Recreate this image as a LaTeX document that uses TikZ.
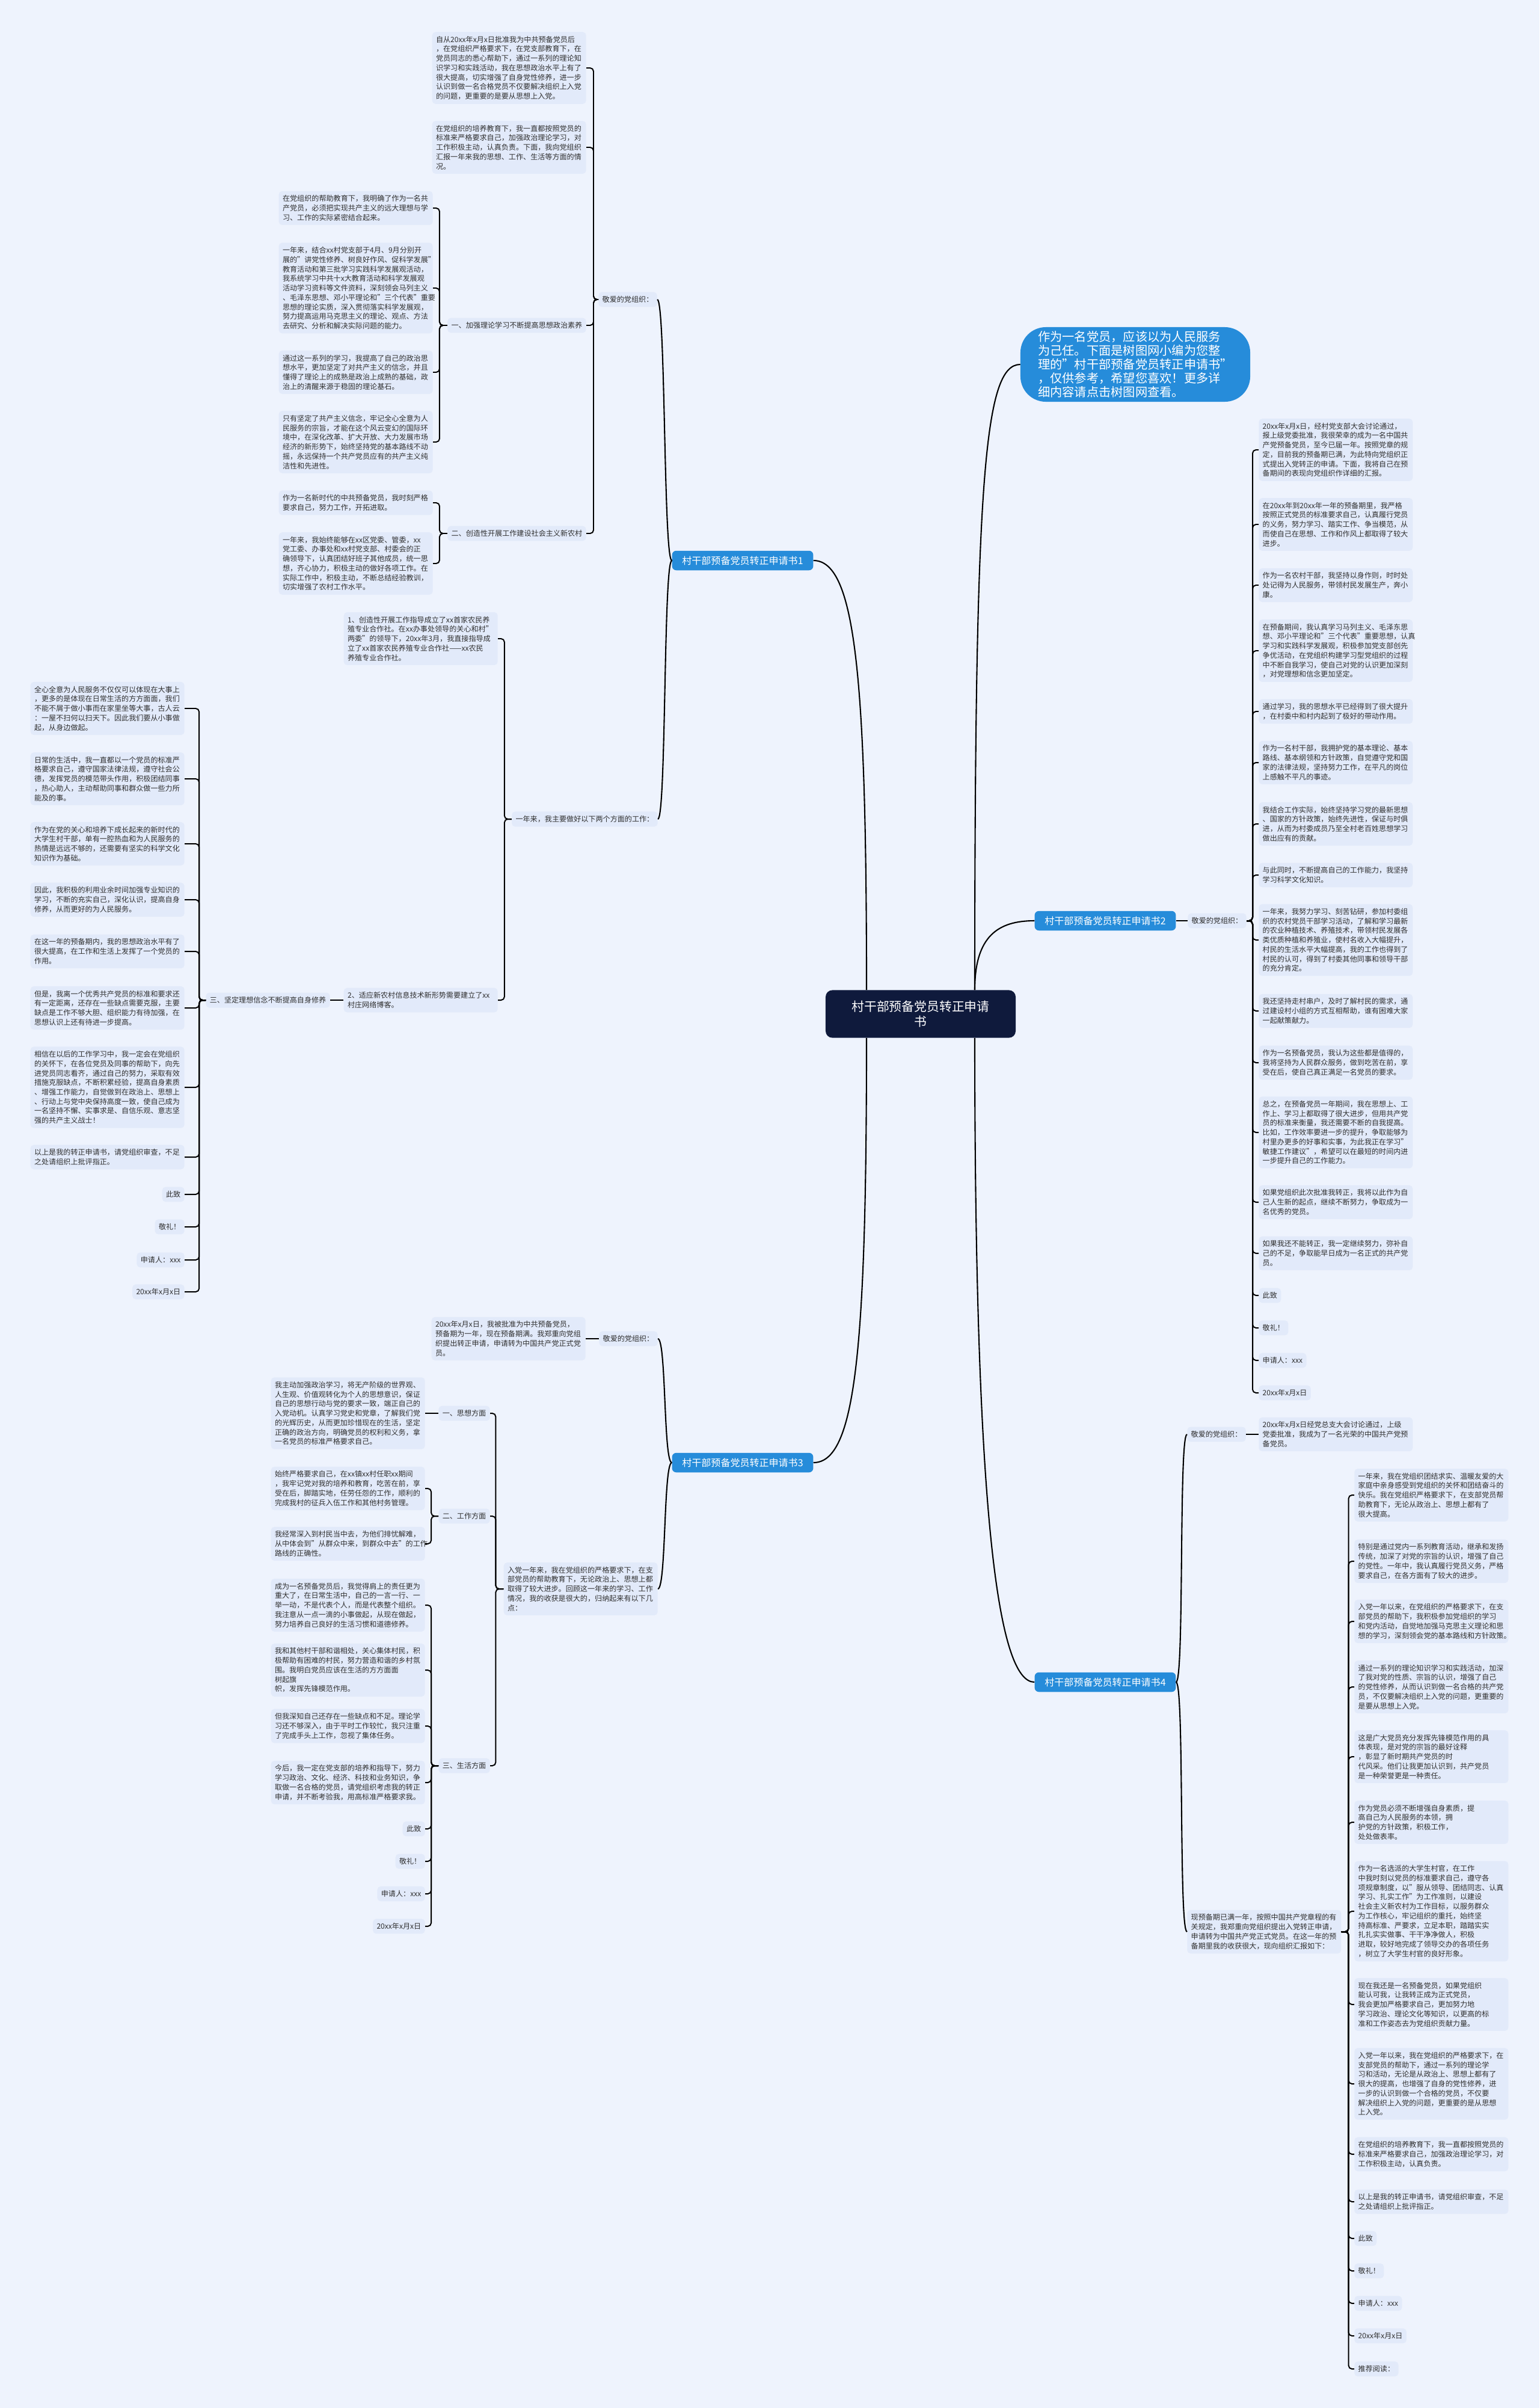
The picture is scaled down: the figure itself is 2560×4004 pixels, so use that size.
\documentclass[tikz,border=0pt]{standalone}
\usepackage{fontspec}
\setmainfont{Noto Sans CJK SC}
\usepackage{tikz}
\usetikzlibrary{positioning,calc}
\definecolor{bgblue}{RGB}{238,243,253}
\definecolor{boxblue}{RGB}{226,234,250}
\definecolor{txtgray}{RGB}{48,48,48}
\definecolor{midblue}{RGB}{38,140,218}
\definecolor{rootnavy}{RGB}{15,26,60}
\newcommand{\leaffont}{\fontsize{8.6}{11.2}\selectfont}
\newcommand{\branchfont}{\fontsize{11.4}{14}\selectfont}
\newcommand{\rootfont}{\fontsize{14.8}{18}\selectfont}
\newcommand{\introfont}{\fontsize{14.4}{16.4}\selectfont}
\tikzset{
  leaf/.style={fill=boxblue,rounded corners=4pt,text=txtgray,font=\leaffont,align=left,
    text width=6.08cm,inner xsep=0.16cm,inner ysep=0.17cm},
  tag/.style={fill=boxblue,rounded corners=4pt,text=txtgray,font=\leaffont,
    inner xsep=0.16cm,inner ysep=0.17cm},
  branch/.style={fill=midblue,text=white,rounded corners=5pt,font=\branchfont,
    inner xsep=0.42cm,inner ysep=0.22cm},
  link/.style={draw=black,line width=1.4pt,rounded corners=4pt},
  curve/.style={draw=black,line width=1.5pt}
}

\begin{document}
\begin{tikzpicture}[x=0.025cm,y=-0.025cm]
  \fill[bgblue] (0,0) rectangle (2560,4004);
  \useasboundingbox (0,0) rectangle (2560,4004);

  % centre and first level
  \node[fill=rootnavy,text=white,rounded corners=8pt,font=\rootfont,align=center,
    minimum width=7.9cm,minimum height=1.98cm] (root) at (1531,1686)
    {村干部预备党员转正申请\\书};
  \node[fill=midblue,text=white,rounded corners=30pt,font=\introfont,align=left,
    minimum width=9.55cm,minimum height=3.1cm,inner xsep=0.5cm] (intro) at (1888,606)
    {作为一名党员，应该以为人民服务\\为己任。下面是树图网小编为您整\\理的"村干部预备党员转正申请书"\\，仅供参考，希望您喜欢！更多详\\细内容请点击树图网查看。};
  \node[branch] (b1) at (1235,932) {村干部预备党员转正申请书1};
  \node[branch] (b2) at (1838,1531) {村干部预备党员转正申请书2};
  \node[branch] (b3) at (1235,2432) {村干部预备党员转正申请书3};
  \node[branch] (b4) at (1838,2797) {村干部预备党员转正申请书4};

  \coordinate (rootUL) at ($(root.north)+(-90,0)$);
  \coordinate (rootUR) at ($(root.north)+(90,0)$);
  \coordinate (rootDL) at ($(root.south)+(-90,0)$);
  \coordinate (rootDR) at ($(root.south)+(90,0)$);
  \draw[curve] (rootUL) .. controls +(0,-520) and +(70,0) .. (b1.east);
  \draw[curve] (rootDL) .. controls +(0,520) and +(70,0) .. (b3.east);
  \draw[curve] (rootUR) .. controls +(0,-90) and +(-60,0) .. (b2.west);
  \draw[curve] (rootUR) .. controls +(0,-850) and +(-60,0) .. (intro.west);
  \draw[curve] (rootDR) .. controls +(0,800) and +(-60,0) .. (b4.west);

  % ---------------- 申请书1 ----------------
  \node[tag,anchor=west] (s1jing) at (995,498) {敬爱的党组织：};
  \node[leaf,anchor=east] (s1a) at (975,113) {自从20xx年x月x日批准我为中共预备党员后\\，在党组织严格要求下，在党支部教育下，在\\党员同志的悉心帮助下，通过一系列的理论知\\识学习和实践活动，我在思想政治水平上有了\\很大提高，切实增强了自身党性修养，进一步\\认识到做一名合格党员不仅要解决组织上入党\\的问题，更重要的是要从思想上入党。};
  \node[leaf,anchor=east] (s1b) at (975,245) {在党组织的培养教育下，我一直都按照党员的\\标准来严格要求自己，加强政治理论学习，对\\工作积极主动，认真负责。下面，我向党组织\\汇报一年来我的思想、工作、生活等方面的情\\况。};
  \node[tag,anchor=east] (s1one) at (975,541) {一、加强理论学习不断提高思想政治素养};
  \node[tag,anchor=east] (s1two) at (975,887) {二、创造性开展工作建设社会主义新农村};
  \foreach \c in {s1a,s1b,s1one,s1two}
    \draw[link] (s1jing.west) -- ++(-8,0) |- (\c.east);

  \node[leaf,anchor=east] (s1o1) at (720,346) {在党组织的帮助教育下，我明确了作为一名共\\产党员，必须把实现共产主义的远大理想与学\\习、工作的实际紧密结合起来。};
  \node[leaf,anchor=east] (s1o2) at (720,479) {一年来，结合xx村党支部于4月、9月分别开\\展的"讲党性修养、树良好作风、促科学发展"\\教育活动和第三批学习实践科学发展观活动，\\我系统学习中共十x大教育活动和科学发展观\\活动学习资料等文件资料，深刻领会马列主义\\、毛泽东思想、邓小平理论和"三个代表"重要\\思想的理论实质，深入贯彻落实科学发展观，\\努力提高运用马克思主义的理论、观点、方法\\去研究、分析和解决实际问题的能力。};
  \node[leaf,anchor=east] (s1o3) at (720,619) {通过这一系列的学习，我提高了自己的政治思\\想水平，更加坚定了对共产主义的信念，并且\\懂得了理论上的成熟是政治上成熟的基础，政\\治上的清醒来源于稳固的理论基石。};
  \node[leaf,anchor=east] (s1o4) at (720,735) {只有坚定了共产主义信念，牢记全心全意为人\\民服务的宗旨，才能在这个风云变幻的国际环\\境中，在深化改革、扩大开放、大力发展市场\\经济的新形势下，始终坚持党的基本路线不动\\摇，永远保持一个共产党员应有的共产主义纯\\洁性和先进性。};
  \foreach \c in {s1o1,s1o2,s1o3,s1o4}
    \draw[link] (s1one.west) -- ++(-13,0) |- (\c.east);

  \node[leaf,anchor=east] (s1t1) at (720,836) {作为一名新时代的中共预备党员，我时刻严格\\要求自己，努力工作，开拓进取。};
  \node[leaf,anchor=east] (s1t2) at (720,937) {一年来，我始终能够在xx区党委、管委，xx\\党工委、办事处和xx村党支部、村委会的正\\确领导下，认真团结好班子其他成员，统一思\\想，齐心协力，积极主动的做好各项工作。在\\实际工作中，积极主动，不断总结经验教训，\\切实增强了农村工作水平。};
  \foreach \c in {s1t1,s1t2}
    \draw[link] (s1two.west) -- ++(-13,0) |- (\c.east);

  \node[tag,anchor=east] (s1work) at (1094,1362) {一年来，我主要做好以下两个方面的工作：};
  \node[leaf,anchor=east] (s1w1) at (828,1062) {1、创造性开展工作指导成立了xx首家农民养\\殖专业合作社。在xx办事处领导的关心和村"\\两委"的领导下，20xx年3月，我直接指导成\\立了xx首家农民养殖专业合作社——xx农民\\养殖专业合作社。};
  \node[leaf,anchor=east] (s1w2) at (828,1663) {2、适应新农村信息技术新形势需要建立了xx\\村庄网络博客。};
  \foreach \c in {s1w1,s1w2}
    \draw[link] (s1work.west) -- ++(-12,0) |- (\c.east);

  \node[tag,anchor=east] (s1three) at (549,1663) {三、坚定理想信念不断提高自身修养};
  \draw[link] (s1w2.west) -- (s1three.east);
  \node[leaf,anchor=east] (s1r1) at (307,1178) {全心全意为人民服务不仅仅可以体现在大事上\\，更多的是体现在日常生活的方方面面，我们\\不能不屑于做小事而在家里坐等大事，古人云\\：一屋不扫何以扫天下。因此我们要从小事做\\起，从身边做起。};
  \node[leaf,anchor=east] (s1r2) at (307,1295) {日常的生活中，我一直都以一个党员的标准严\\格要求自己，遵守国家法律法规，遵守社会公\\德，发挥党员的模范带头作用，积极团结同事\\，热心助人，主动帮助同事和群众做一些力所\\能及的事。};
  \node[leaf,anchor=east] (s1r3) at (307,1403) {作为在党的关心和培养下成长起来的新时代的\\大学生村干部，单有一腔热血和为人民服务的\\热情是远远不够的，还需要有坚实的科学文化\\知识作为基础。};
  \node[leaf,anchor=east] (s1r4) at (307,1496) {因此，我积极的利用业余时间加强专业知识的\\学习，不断的充实自己，深化认识，提高自身\\修养，从而更好的为人民服务。};
  \node[leaf,anchor=east] (s1r5) at (307,1582) {在这一年的预备期内，我的思想政治水平有了\\很大提高，在工作和生活上发挥了一个党员的\\作用。};
  \node[leaf,anchor=east] (s1r6) at (307,1676) {但是，我离一个优秀共产党员的标准和要求还\\有一定距离，还存在一些缺点需要克服，主要\\缺点是工作不够大胆、组织能力有待加强，在\\思想认识上还有待进一步提高。};
  \node[leaf,anchor=east] (s1r7) at (307,1808) {相信在以后的工作学习中，我一定会在党组织\\的关怀下，在各位党员及同事的帮助下，向先\\进党员同志看齐，通过自己的努力，采取有效\\措施克服缺点，不断积累经验，提高自身素质\\、增强工作能力，自觉做到在政治上、思想上\\、行动上与党中央保持高度一致，使自己成为\\一名坚持不懈、实事求是、自信乐观、意志坚\\强的共产主义战士！};
  \node[leaf,anchor=east] (s1r8) at (307,1924) {以上是我的转正申请书，请党组织审查，不足\\之处请组织上批评指正。};
  \node[tag,anchor=east] (s1r9) at (307,1986) {此致};
  \node[tag,anchor=east] (s1r10) at (307,2040) {敬礼！};
  \node[tag,anchor=east] (s1r11) at (307,2095) {申请人：xxx};
  \node[tag,anchor=east] (s1r12) at (307,2148) {20xx年x月x日};
  \foreach \c in {s1r1,s1r2,s1r3,s1r4,s1r5,s1r6,s1r7,s1r8,s1r9,s1r10,s1r11,s1r12}
    \draw[link] (s1three.west) -- ++(-11,0) |- (\c.east);

  \draw[curve] (b1.west) .. controls +(-14,0) and +(14,0) .. (s1jing.east);
  \draw[curve] (b1.west) .. controls +(-14,0) and +(14,0) .. (s1work.east);

  % ---------------- 申请书2 ----------------
  \node[tag,anchor=east] (s2jing) at (2073,1531) {敬爱的党组织：};
  \draw[curve] (b2.east) -- (s2jing.west);
  \node[leaf,anchor=west] (s2c1) at (2093,748) {20xx年x月x日，经村党支部大会讨论通过，\\报上级党委批准，我很荣幸的成为一名中国共\\产党预备党员，至今已届一年。按照党章的规\\定，目前我的预备期已满，为此特向党组织正\\式提出入党转正的申请。下面，我将自己在预\\备期间的表现向党组织作详细的汇报。};
  \node[leaf,anchor=west] (s2c2) at (2093,872) {在20xx年到20xx年一年的预备期里，我严格\\按照正式党员的标准要求自己，认真履行党员\\的义务，努力学习、踏实工作、争当模范，从\\而使自己在思想、工作和作风上都取得了较大\\进步。};
  \node[leaf,anchor=west] (s2c3) at (2093,973) {作为一名农村干部，我坚持以身作则，时时处\\处记得为人民服务，带领村民发展生产，奔小\\康。};
  \node[leaf,anchor=west] (s2c4) at (2093,1082) {在预备期间，我认真学习马列主义、毛泽东思\\想、邓小平理论和"三个代表"重要思想，认真\\学习和实践科学发展观，积极参加党支部创先\\争优活动，在党组织构建学习型党组织的过程\\中不断自我学习，使自己对党的认识更加深刻\\，对党理想和信念更加坚定。};
  \node[leaf,anchor=west] (s2c5) at (2093,1183) {通过学习，我的思想水平已经得到了很大提升\\，在村委中和村内起到了极好的带动作用。};
  \node[leaf,anchor=west] (s2c6) at (2093,1268) {作为一名村干部，我拥护党的基本理论、基本\\路线、基本纲领和方针政策，自觉遵守党和国\\家的法律法规，坚持努力工作，在平凡的岗位\\上感触不平凡的事迹。};
  \node[leaf,anchor=west] (s2c7) at (2093,1370) {我结合工作实际，始终坚持学习党的最新思想\\、国家的方针政策，始终先进性，保证与时俱\\进，从而为村委成员乃至全村老百姓思想学习\\做出应有的贡献。};
  \node[leaf,anchor=west] (s2c8) at (2093,1455) {与此同时，不断提高自己的工作能力，我坚持\\学习科学文化知识。};
  \node[leaf,anchor=west] (s2c9) at (2093,1563) {一年来，我努力学习、刻苦钻研，参加村委组\\织的农村党员干部学习活动，了解和学习最新\\的农业种植技术、养殖技术，带领村民发展各\\类优质种植和养殖业，使村名收入大幅提升，\\村民的生活水平大幅提高，我的工作也得到了\\村民的认可，得到了村委其他同事和领导干部\\的充分肯定。};
  \node[leaf,anchor=west] (s2c10) at (2093,1681) {我还坚持走村串户，及时了解村民的需求，通\\过建设村小组的方式互相帮助，谁有困难大家\\一起献策献力。};
  \node[leaf,anchor=west] (s2c11) at (2093,1767) {作为一名预备党员，我认为这些都是值得的，\\我将坚持为人民群众服务，做到吃苦在前，享\\受在后，使自己真正满足一名党员的要求。};
  \node[leaf,anchor=west] (s2c12) at (2093,1883) {总之，在预备党员一年期间，我在思想上、工\\作上、学习上都取得了很大进步，但用共产党\\员的标准来衡量，我还需要不断的自我提高。\\比如，工作效率要进一步的提升，争取能够为\\村里办更多的好事和实事，为此我正在学习"\\敏捷工作建议"，希望可以在最短的时间内进\\一步提升自己的工作能力。};
  \node[leaf,anchor=west] (s2c13) at (2093,1999) {如果党组织此次批准我转正，我将以此作为自\\己人生新的起点，继续不断努力，争取成为一\\名优秀的党员。};
  \node[leaf,anchor=west] (s2c14) at (2093,2084) {如果我还不能转正，我一定继续努力，弥补自\\己的不足，争取能早日成为一名正式的共产党\\员。};
  \node[tag,anchor=west] (s2c15) at (2093,2154) {此致};
  \node[tag,anchor=west] (s2c16) at (2093,2208) {敬礼！};
  \node[tag,anchor=west] (s2c17) at (2093,2262) {申请人：xxx};
  \node[tag,anchor=west] (s2c18) at (2093,2316) {20xx年x月x日};
  \foreach \c in {s2c1,s2c2,s2c3,s2c4,s2c5,s2c6,s2c7,s2c8,s2c9,s2c10,s2c11,s2c12,s2c13,s2c14,s2c15,s2c16,s2c17,s2c18}
    \draw[link] (s2jing.east) -- ++(10,0) |- (\c.west);

  % ---------------- 申请书3 ----------------
  \node[tag,anchor=east] (s3jing) at (1094,2226) {敬爱的党组织：};
  \node[leaf,anchor=east] (s3j1) at (974,2226) {20xx年x月x日，我被批准为中共预备党员，\\预备期为一年，现在预备期满。我郑重向党组\\织提出转正申请，申请转为中国共产党正式党\\员。};
  \draw[link] (s3jing.west) -- (s3j1.east);
  \node[leaf,anchor=east] (s3sum) at (1094,2642) {入党一年来，我在党组织的严格要求下，在支\\部党员的帮助教育下，无论政治上、思想上都\\取得了较大进步。回顾这一年来的学习、工作\\情况，我的收获是很大的，归纳起来有以下几\\点：};
  \draw[curve] (b3.west) .. controls +(-14,0) and +(14,0) .. (s3jing.east);
  \draw[curve] (b3.west) .. controls +(-14,0) and +(14,0) .. (s3sum.east);

  \node[tag,anchor=east] (s3one) at (815,2350) {一、思想方面};
  \node[tag,anchor=east] (s3two) at (815,2521) {二、工作方面};
  \node[tag,anchor=east] (s3three) at (815,2936) {三、生活方面};
  \foreach \c in {s3one,s3two,s3three}
    \draw[link] (s3sum.west) -- ++(-13,0) |- (\c.east);

  \node[leaf,anchor=east] (s3o1) at (707,2350) {我主动加强政治学习，将无产阶级的世界观、\\人生观、价值观转化为个人的思想意识，保证\\自己的思想行动与党的要求一致，端正自己的\\入党动机。认真学习党史和党章，了解我们党\\的光辉历史，从而更加珍惜现在的生活，坚定\\正确的政治方向，明确党员的权利和义务，拿\\一名党员的标准严格要求自己。};
  \draw[link] (s3one.west) -- (s3o1.east);

  \node[leaf,anchor=east] (s3t1) at (707,2475) {始终严格要求自己，在xx镇xx村任职xx期间\\，我牢记党对我的培养和教育，吃苦在前，享\\受在后，脚踏实地，任劳任怨的工作，顺利的\\完成我村的征兵入伍工作和其他村务管理。};
  \node[leaf,anchor=east] (s3t2) at (707,2567) {我经常深入到村民当中去，为他们排忧解难，\\从中体会到"从群众中来，到群众中去"的工作\\路线的正确性。};
  \foreach \c in {s3t1,s3t2}
    \draw[link] (s3two.west) -- ++(-12,0) |- (\c.east);

  \node[leaf,anchor=east] (s3l1) at (707,2669) {成为一名预备党员后，我觉得肩上的责任更为\\重大了，在日常生活中，自己的一言一行、一\\举一动，不是代表个人，而是代表整个组织。\\我注意从一点一滴的小事做起，从现在做起，\\努力培养自己良好的生活习惯和道德修养。};
  \node[leaf,anchor=east] (s3l2) at (707,2777) {我和其他村干部和谐相处，关心集体村民，积\\极帮助有困难的村民，努力营造和谐的乡村氛\\围。我明白党员应该在生活的方方面面 树起旗\\帜，发挥先锋模范作用。};
  \node[leaf,anchor=east] (s3l3) at (707,2870) {但我深知自己还存在一些缺点和不足。理论学\\习还不够深入，由于平时工作较忙，我只注重\\了完成手头上工作，忽视了集体任务。};
  \node[leaf,anchor=east] (s3l4) at (707,2964) {今后，我一定在党支部的培养和指导下，努力\\学习政治、文化、经济、科技和业务知识，争\\取做一名合格的党员，请党组织考虑我的转正\\申请，并不断考验我，用高标准严格要求我。};
  \node[tag,anchor=east] (s3l5) at (707,3041) {此致};
  \node[tag,anchor=east] (s3l6) at (707,3095) {敬礼！};
  \node[tag,anchor=east] (s3l7) at (707,3149) {申请人：xxx};
  \node[tag,anchor=east] (s3l8) at (707,3203) {20xx年x月x日};
  \foreach \c in {s3l1,s3l2,s3l3,s3l4,s3l5,s3l6,s3l7,s3l8}
    \draw[link] (s3three.west) -- ++(-12,0) |- (\c.east);

  % ---------------- 申请书4 ----------------
  \node[tag,anchor=west] (s4jing) at (1974,2385) {敬爱的党组织：};
  \node[leaf,anchor=west] (s4j1) at (2093,2385) {20xx年x月x日经党总支大会讨论通过，上级\\党委批准，我成为了一名光荣的中国共产党预\\备党员。};
  \draw[link] (s4jing.east) -- (s4j1.west);
  \node[leaf,anchor=west] (s4sum) at (1974,3212) {现预备期已满一年，按照中国共产党章程的有\\关规定，我郑重向党组织提出入党转正申请，\\申请转为中国共产党正式党员。在这一年的预\\备期里我的收获很大，现向组织汇报如下：};
  \draw[curve] (b4.east) .. controls +(14,0) and +(-14,0) .. (s4jing.west);
  \draw[curve] (b4.east) .. controls +(14,0) and +(-14,0) .. (s4sum.west);

  \node[leaf,anchor=west] (s4c1) at (2252,2486) {一年来，我在党组织团结求实、温暖友爱的大\\家庭中亲身感受到党组织的关怀和团结奋斗的\\快乐。我在党组织严格要求下，在支部党员帮\\助教育下，无论从政治上、思想上都有了\\很大提高。};
  \node[leaf,anchor=west] (s4c2) at (2252,2596) {特别是通过党内一系列教育活动，继承和发扬\\传统，加深了对党的宗旨的认识，增强了自己\\的党性。一年中，我认真履行党员义务，严格\\要求自己，在各方面有了较大的进步。};
  \node[leaf,anchor=west] (s4c3) at (2252,2696) {入党一年以来，在党组织的严格要求下，在支\\部党员的帮助下，我积极参加党组织的学习\\和党内活动，自觉地加强马克思主义理论和思\\想的学习，深刻领会党的基本路线和方针政策。};
  \node[leaf,anchor=west] (s4c4) at (2252,2805) {通过一系列的理论知识学习和实践活动，加深\\了我对党的性质、宗旨的认识，增强了自己\\的党性修养，从而认识到做一名合格的共产党\\员，不仅要解决组织上入党的问题，更重要的\\是要从思想上入党。};
  \node[leaf,anchor=west] (s4c5) at (2252,2921) {这是广大党员充分发挥先锋模范作用的具\\体表现，是对党的宗旨的最好诠释\\，彰显了新时期共产党员的时\\代风采。他们让我更加认识到，共产党员\\是一种荣誉更是一种责任。};
  \node[leaf,anchor=west] (s4c6) at (2252,3030) {作为党员必须不断增强自身素质，提\\高自己为人民服务的本领，拥\\护党的方针政策，积极工作，\\处处做表率。};
  \node[leaf,anchor=west] (s4c7) at (2252,3178) {作为一名选派的大学生村官，在工作\\中我时刻以党员的标准要求自己，遵守各\\项规章制度，以"服从领导、团结同志、认真\\学习、扎实工作"为工作准则，以建设\\社会主义新农村为工作目标，以服务群众\\为工作核心，牢记组织的重托，始终坚\\持高标准、严要求，立足本职，踏踏实实\\扎扎实实做事、干干净净做人，积极\\进取，较好地完成了领导交办的各项任务\\，树立了大学生村官的良好形象。};
  \node[leaf,anchor=west] (s4c8) at (2252,3333) {现在我还是一名预备党员，如果党组织\\能认可我，让我转正成为正式党员，\\我会更加严格要求自己，更加努力地\\学习政治、理论文化等知识，以更高的标\\准和工作姿态去为党组织贡献力量。};
  \node[leaf,anchor=west] (s4c9) at (2252,3465) {入党一年以来，我在党组织的严格要求下，在\\支部党员的帮助下，通过一系列的理论学\\习和活动，无论是从政治上、思想上都有了\\很大的提高，也增强了自身的党性修养，进\\一步的认识到做一个合格的党员，不仅要\\解决组织上入党的问题，更重要的是从思想\\上入党。};
  \node[leaf,anchor=west] (s4c10) at (2252,3582) {在党组织的培养教育下，我一直都按照党员的\\标准来严格要求自己，加强政治理论学习，对\\工作积极主动，认真负责。};
  \node[leaf,anchor=west] (s4c11) at (2252,3661) {以上是我的转正申请书，请党组织审查，不足\\之处请组织上批评指正。};
  \node[tag,anchor=west] (s4c12) at (2252,3722) {此致};
  \node[tag,anchor=west] (s4c13) at (2252,3776) {敬礼！};
  \node[tag,anchor=west] (s4c14) at (2252,3830) {申请人：xxx};
  \node[tag,anchor=west] (s4c15) at (2252,3884) {20xx年x月x日};
  \node[tag,anchor=west] (s4c16) at (2252,3939) {推荐阅读：};
  \foreach \c in {s4c1,s4c2,s4c3,s4c4,s4c5,s4c6,s4c7,s4c8,s4c9,s4c10,s4c11,s4c12,s4c13,s4c14,s4c15,s4c16}
    \draw[link] (s4sum.east) -- ++(12,0) |- (\c.west);
\end{tikzpicture}
\end{document}
